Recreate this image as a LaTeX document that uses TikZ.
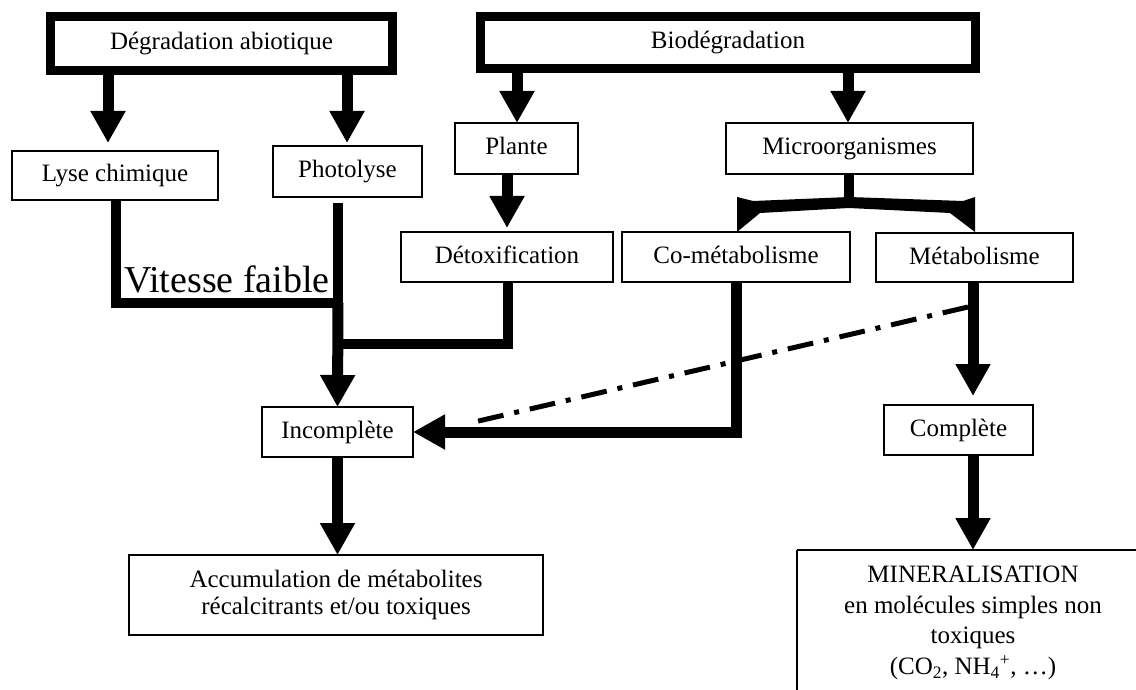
\documentclass[tikz,border=0pt]{standalone}
\usepackage{fontspec}
\setmainfont{Liberation Serif}
\usetikzlibrary{arrows.meta}
\newcommand{\diagfont}{\fontsize{25}{30}\selectfont}
\newcommand{\minfont}{\fontsize{25}{30.7}\selectfont}
\newcommand{\accfont}{\fontsize{25}{27.5}\selectfont}
\begin{document}
\begin{tikzpicture}[x=1pt,y=-1pt,
  bigbox/.style={draw,line width=9pt,inner sep=0pt,outer sep=0pt,font=\diagfont,text height=18pt,text depth=5pt},
  box/.style={draw,line width=1.4pt,inner sep=0pt,outer sep=0pt,font=\diagfont,text height=18pt,text depth=5pt},
  tallbox/.style={draw,line width=1.4pt,inner sep=0pt,outer sep=0pt,font=\accfont,align=center},
  boxline/.style={line width=1.4pt},
  arr/.style={line width=11pt,-{Triangle[length=32pt,width=33pt]}},
  conn/.style={line width=10pt},
  dashdot/.style={line width=5pt,dash pattern=on 26pt off 11pt on 5pt off 11pt}]
\fill[white] (0,0) rectangle (1136,690);
\useasboundingbox (0,0) rectangle (1136,690);

% nodes
\node[bigbox,minimum width=342pt,minimum height=54pt] (abio) at (221.5,43.5) {Dégradation abiotique};
\node[bigbox,minimum width=495pt,minimum height=52pt] (bio) at (728,42.5) {Biodégradation};
\node[box,minimum width=206pt,minimum height=49pt] (lyse) at (115,175.5) {Lyse chimique};
\node[box,minimum width=149pt,minimum height=51pt] (photo) at (347.5,171.5) {Photolyse};
\node[box,minimum width=123pt,minimum height=51pt] (plante) at (516.5,148.5) {Plante};
\node[box,minimum width=247pt,minimum height=51pt] (micro) at (849.5,148.5) {Microorganismes};
\node[box,minimum width=212pt,minimum height=50pt] (detox) at (507,257) {Détoxification};
\node[box,minimum width=228pt,minimum height=50pt] (comet) at (736,257) {Co-métabolisme};
\node[box,minimum width=197pt,minimum height=49pt] (metab) at (974.5,257.5) {Métabolisme};
\node[box,minimum width=151pt,minimum height=50pt] (incomp) at (337.5,432) {Incomplète};
\node[box,minimum width=149pt,minimum height=50pt] (comp) at (958.5,430) {Complète};
\node[tallbox,minimum width=414pt,minimum height=80pt] (accum) at (336,595)
  {Accumulation de métabolites\\récalcitrants et/ou toxiques};
\node[font=\minfont,align=center,inner sep=0pt] (mineral) at (973,623)
  {MINERALISATION\\en molécules simples non\\toxiques\\(CO\textsubscript{2}, NH\textsubscript{4}\textsuperscript{+}, \ldots)};
\coordinate (mtl) at (797,550);
\draw[boxline] (mtl) -- ++(350,0);
\draw[boxline] (mtl) -- ++(0,150);
\node[font=\fontsize{38}{40}\selectfont,anchor=base,inner sep=0pt] (vf) at (227,292) {Vitesse faible};

% helper coordinates
\coordinate (xa1) at (108,0);
\coordinate (xa2) at (347,0);
\coordinate (xb1) at (517,0);
\coordinate (xb2) at (848,0);
\coordinate (xp) at (507,0);
\coordinate (xl) at (116,0);
\coordinate (xph) at (338,0);
\coordinate (xd) at (508,0);
\coordinate (xm) at (973,0);
\coordinate (xs) at (849,0);
\coordinate (j1) at (338,303);
\coordinate (j2) at (338,344);
\coordinate (bc) at (849,203);
\coordinate (mtop) at (973,550);
\coordinate (dstart) at (968,307);
\coordinate (dend) at (470,423);

% connectors
\draw[arr,shorten >=8pt] (abio.south -| xa1) -- (lyse.north -| xa1);
\draw[arr,shorten >=3pt] (abio.south -| xa2) -- (photo.north -| xa2);
\draw[arr] (bio.south -| xb1) -- (plante.north -| xb1);
\draw[arr] (bio.south -| xb2) -- (micro.north -| xb2);
\draw[arr,shorten >=4pt] (plante.south -| xp) -- (detox.north -| xp);
\draw[conn] (lyse.south -| xl) |- (j1);
\draw[conn,shorten <=6pt] (photo.south -| xph) -- (j1);
\draw[arr] (j1) -- (incomp.north);
\draw[conn] (detox.south -| xd) |- (j2);
\draw[arr] (comet.south) |- (incomp.east);
\draw[dashdot] (dstart) -- (dend);
\draw[arr,shorten >=9pt] (metab.south -| xm) -- (comp.north -| xm);
\draw[arr] (comp.south -| xm) -- (mtop);
\draw[arr] (incomp.south) -- (accum.north -| incomp.south);

% bracket under Microorganismes
\draw[conn] (micro.south -| xs) -- (bc);
\fill (737,197) -- (753,201) -- (849,197) -- (963,201) -- (975,197) -- (975,232)
  -- (950,213) -- (849,208) -- (760,213) -- (737,232) -- cycle;
\end{tikzpicture}
\end{document}
